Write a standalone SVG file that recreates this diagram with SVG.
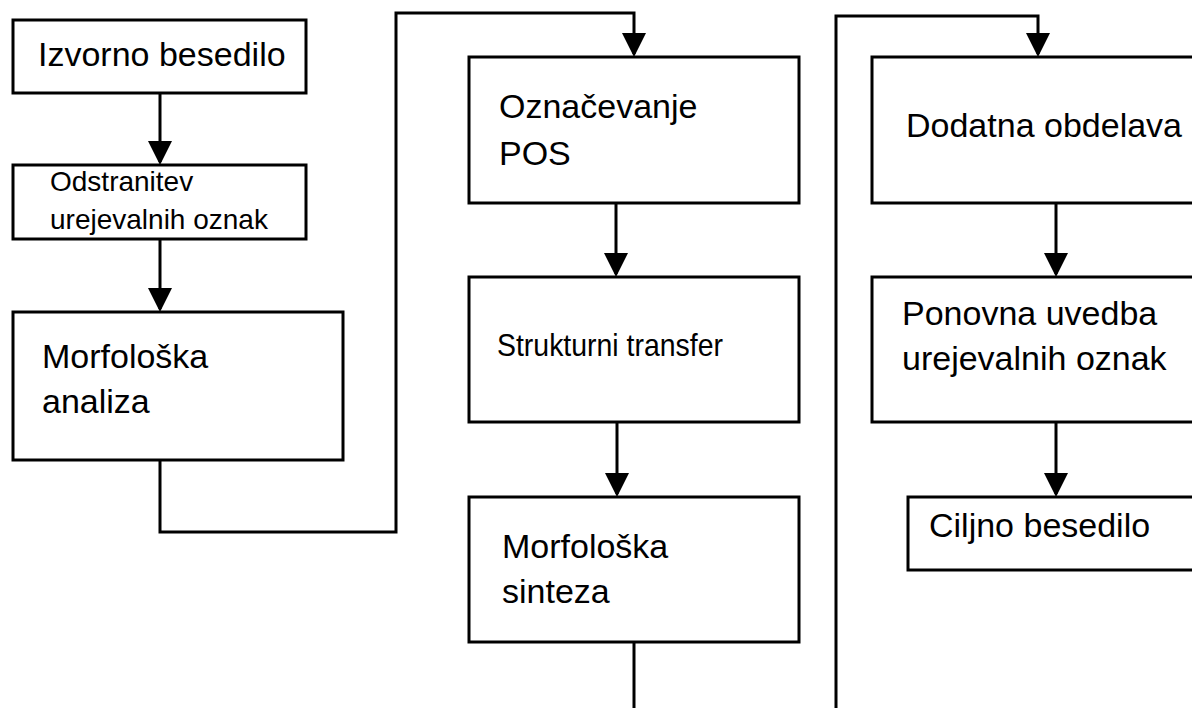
<svg xmlns="http://www.w3.org/2000/svg" width="1192" height="708" viewBox="0 0 1192 708">
<defs>
<style>
.box{fill:#fff;stroke:#000;stroke-width:3}
.t{font-family:"Liberation Sans",Arial,sans-serif;font-size:34px;fill:#000}
.s{font-size:28px}
.m{font-size:32px}
.c{fill:none;stroke:#000;stroke-width:3}
</style>
<marker id="ah" markerUnits="userSpaceOnUse" markerWidth="24" markerHeight="24" refX="21" refY="12" orient="auto" viewBox="0 0 24 24">
<path d="M0,0 L24,12 L0,24 Z" fill="#000"/>
</marker>
</defs>
<rect width="1192" height="708" fill="#fff"/>
<g id="connectors">
<path class="c" d="M160,93 V162" marker-end="url(#ah)"/>
<path class="c" d="M160,239 V309" marker-end="url(#ah)"/>
<path class="c" d="M160,460 V532 H396 V13 H634 V54" marker-end="url(#ah)"/>
<path class="c" d="M616,203 V274" marker-end="url(#ah)"/>
<path class="c" d="M617,422 V494" marker-end="url(#ah)"/>
<path class="c" d="M634,642 V708"/>
<path class="c" d="M836,708 V16 H1038 V54" marker-end="url(#ah)"/>
<path class="c" d="M1056,203 V274" marker-end="url(#ah)"/>
<path class="c" d="M1056,422 V494" marker-end="url(#ah)"/>
</g>
<g id="izvorno">
<rect class="box" x="13" y="20" width="293" height="73"/>
<text class="t" x="38" y="66">Izvorno besedilo</text>
</g>
<g id="odstranitev">
<rect class="box" x="13" y="165" width="293" height="74"/>
<text class="t s" x="50" y="191">Odstranitev</text>
<text class="t s" x="50" y="229">urejevalnih oznak</text>
</g>
<g id="analiza">
<rect class="box" x="13" y="312" width="330" height="148"/>
<text class="t" x="42" y="368">Morfološka</text>
<text class="t" x="42" y="413">analiza</text>
</g>
<g id="pos">
<rect class="box" x="469" y="57" width="330" height="146"/>
<text class="t" x="499" y="118">Označevanje</text>
<text class="t" x="499" y="165">POS</text>
</g>
<g id="transfer">
<rect class="box" x="469" y="277" width="330" height="145"/>
<text class="t m" x="497" y="356" textLength="226" lengthAdjust="spacingAndGlyphs">Strukturni transfer</text>
</g>
<g id="sinteza">
<rect class="box" x="469" y="497" width="330" height="145"/>
<text class="t" x="502" y="558">Morfološka</text>
<text class="t" x="502" y="603">sinteza</text>
</g>
<g id="obdelava">
<rect class="box" x="872" y="57" width="340" height="146"/>
<text class="t" x="906" y="137">Dodatna obdelava</text>
</g>
<g id="uvedba">
<rect class="box" x="872" y="277" width="340" height="145"/>
<text class="t" x="902" y="325">Ponovna uvedba</text>
<text class="t" x="902" y="370">urejevalnih oznak</text>
</g>
<g id="ciljno">
<rect class="box" x="908" y="497" width="304" height="73"/>
<text class="t" x="929" y="537">Ciljno besedilo</text>
</g>
</svg>
